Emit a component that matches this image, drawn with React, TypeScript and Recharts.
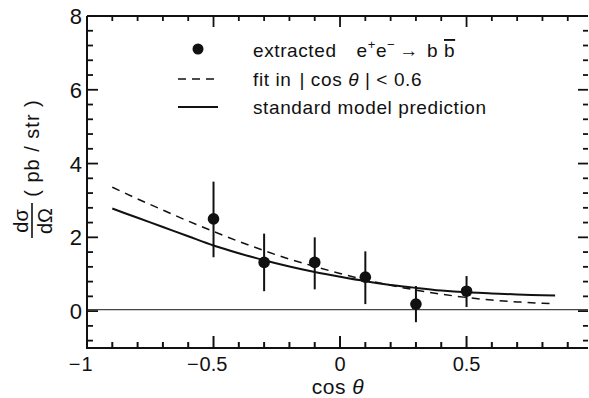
import React from 'react';
import { ComposedChart, Line, Scatter, XAxis, YAxis, ErrorBar, ReferenceLine, Label } from 'recharts';

// measured points (extracted e+e- -> b bbar)
const pointX = [-0.5, -0.3, -0.1, 0.1, 0.3, 0.5];
const pointY = [2.5, 1.32, 1.32, 0.92, 0.19, 0.54];
const pointLow = [1.46, 0.54, 0.59, 0.19, -0.3, 0.11];
const pointHigh = [3.51, 2.1, 2.0, 1.62, 0.68, 0.95];

// curves
const curveX = [-0.9, -0.8, -0.7, -0.6, -0.5, -0.4, -0.3, -0.2, -0.1, 0, 0.1, 0.2, 0.3, 0.4, 0.5, 0.6, 0.7, 0.8, 0.85];
const smValues = [2.78, 2.53, 2.28, 2.03, 1.78, 1.57, 1.38, 1.21, 1.06, 0.93, 0.81, 0.71, 0.63, 0.56, 0.51, 0.48, 0.45, 0.43, 0.42];
const fitValues = [3.36, 3.04, 2.74, 2.44, 2.16, 1.89, 1.64, 1.41, 1.21, 1.02, 0.85, 0.7, 0.57, 0.46, 0.37, 0.3, 0.25, 0.21, 0.2];

const zeroLineY = 0.04;

const xTicks = [-1, -0.9, -0.8, -0.7, -0.6, -0.5, -0.4, -0.3, -0.2, -0.1, 0, 0.1, 0.2, 0.3, 0.4, 0.5, 0.6, 0.7, 0.8, 0.9];
const yTicks = [-0.8, -0.4, 0, 0.4, 0.8, 1.2, 1.6, 2, 2.4, 2.8, 3.2, 3.6, 4, 4.4, 4.8, 5.2, 5.6, 6, 6.4, 6.8, 7.2, 7.6, 8];
const xDomain = [-1, 0.98];
const yDomain = [-1, 8];

const legendLabels = ['extracted', 'fit in', 'standard model prediction'];

const FONT = '"Liberation Sans", Arial, sans-serif';
const INK = '#111';

const curveData = curveX.map((x, i) => ({ x, sm: smValues[i], fit: fitValues[i] }));
const pointData = pointX.map((x, i) => ({
  x,
  y: pointY[i],
  err: [pointY[i] - pointLow[i], pointHigh[i] - pointY[i]],
}));

const isMajorX = (v: number) => Math.abs(v * 2 - Math.round(v * 2)) < 1e-6;
const isMajorY = (v: number) => Math.abs(v / 2 - Math.round(v / 2)) < 1e-6;

const charW: Record<string, number> = { '.': 5.6, '0': 11.1, '1': 11.1, '5': 11.1 };
const strW = (s: string) => s.split('').reduce((a, c) => a + (charW[c] ?? 11.1), 0);

const BottomTick = (props: any) => {
  const { x, y, payload } = props;
  const v = payload.value as number;
  const major = isMajorX(v);
  const absStr = String(Math.abs(Math.round(v * 10) / 10));
  const w = strW(absStr);
  const len = major ? 12 : 6;
  return (
    <g>
      <path d={`M${x},${y + 1}L${x},${y - len}`} stroke={INK} strokeWidth={2} fill="none" />
      {major && (
        <text x={x} y={y + 23} textAnchor="middle" fontFamily={FONT} fontSize={20} fill={INK}>
          {absStr}
        </text>
      )}
      {major && v < 0 && (
        <text x={x - w / 2 - 1} y={y + 23} textAnchor="end" fontFamily={FONT} fontSize={20} fill={INK}>
          {'\u2212'}
        </text>
      )}
    </g>
  );
};

const TopTick = (props: any) => {
  const { x, y, payload } = props;
  const major = isMajorX(payload.value);
  return <path d={`M${x},${y}L${x},${y + (major ? 11 : 5)}`} stroke={INK} strokeWidth={1.8} fill="none" />;
};

const LeftTick = (props: any) => {
  const { x, y, payload } = props;
  const v = payload.value as number;
  const major = isMajorY(v);
  return (
    <g>
      <path d={`M${x},${y}L${x + (major ? 11 : 6)},${y}`} stroke={INK} strokeWidth={1.8} fill="none" />
      {major && (
        <text x={x - 5} y={y + 8} textAnchor="end" fontFamily={FONT} fontSize={22} fill={INK}>
          {String(Math.round(v))}
        </text>
      )}
    </g>
  );
};

const RightTick = (props: any) => {
  const { x, y, payload } = props;
  const major = isMajorY(payload.value);
  return <path d={`M${x},${y}L${x - (major ? 10 : 5)},${y}`} stroke={INK} strokeWidth={1.8} fill="none" />;
};

const LegendBox = () => (
  <g fontFamily={FONT} fill={INK} fontSize={19} letterSpacing={0.6}>
    <circle cx={198} cy={49} r={5.5} fill={INK} />
    <text x={253} y={57}>
      {legendLabels[0]}
      <tspan dx={20}>e</tspan>
      <tspan fontSize={13} dy={-8}>+</tspan>
      <tspan dy={8}>e</tspan>
      <tspan fontSize={13} dy={-8}>{'\u2212'}</tspan>
      <tspan dy={8} dx={4}>{'\u2192'}</tspan>
      <tspan dx={8}>b </tspan>
      <tspan textDecoration="overline">b</tspan>
    </text>
    <line x1={178} x2={218} y1={79} y2={79} stroke={INK} strokeWidth={1.5} strokeDasharray="8 6" />
    <text x={253} y={86}>
      {legendLabels[1]}
      <tspan dx={8}>{'| cos '}</tspan>
      <tspan fontStyle="italic">{'\u03B8'}</tspan>
      <tspan>{' | < 0.6'}</tspan>
    </text>
    <line x1={178} x2={218} y1={107} y2={107} stroke={INK} strokeWidth={1.8} />
    <text x={253} y={114}>{legendLabels[2]}</text>
  </g>
);

const YTitle = () => (
  <g>
    <g fontFamily={FONT} fill={INK}>
      <text x={0} y={0} transform="translate(39,148) rotate(-90)" textAnchor="middle" fontSize={20} letterSpacing={1}>
        ( pb / str )
      </text>
      <text x={0} y={0} transform="translate(28,221) rotate(-90)" textAnchor="middle" fontSize={20}>
        {'d\u03C3'}
      </text>
      <line x1={32} x2={32} y1={203} y2={238} stroke={INK} strokeWidth={1.6} />
      <text x={0} y={0} transform="translate(52,221) rotate(-90)" textAnchor="middle" fontSize={20}>
        {'d\u03A9'}
      </text>
    </g>
    <LegendBox />
  </g>
);

const XTitle = () => (
  <text x={338} y={394} textAnchor="middle" fontFamily={FONT} fontSize={21} fill={INK} letterSpacing={0.5}>
    cos <tspan fontStyle="italic">{'\u03B8'}</tspan>
  </text>
);

const Dot = (p: any) => <circle cx={p.cx} cy={p.cy} r={5.8} fill={INK} />;

export default function App() {
  return (
    <div style={{ position: 'absolute', left: 0, top: 0, width: 589, height: 398, background: '#fff' }}>
      <ComposedChart width={589} height={398} data={curveData} margin={{ top: 15, right: 0, bottom: 0, left: 0 }}>
        <XAxis
          xAxisId="b"
          orientation="bottom"
          type="number"
          dataKey="x"
          domain={xDomain}
          ticks={xTicks}
          allowDataOverflow
          height={50}
          tickSize={0}
          tickMargin={0}
          tickLine={false}
          tick={<BottomTick />}
          axisLine={{ stroke: INK, strokeWidth: 2 }}
          interval={0}
        >
          <Label content={<XTitle />} />
        </XAxis>
        <XAxis
          xAxisId="t"
          orientation="top"
          type="number"
          dataKey="x"
          domain={xDomain}
          ticks={xTicks}
          allowDataOverflow
          height={1}
          tickSize={0}
          tickMargin={0}
          tickLine={false}
          tick={<TopTick />}
          axisLine={{ stroke: INK, strokeWidth: 2 }}
          interval={0}
        />
        <YAxis
          yAxisId="l"
          orientation="left"
          type="number"
          domain={yDomain}
          ticks={yTicks}
          allowDataOverflow
          width={87}
          tickSize={0}
          tickMargin={0}
          tickLine={false}
          tick={<LeftTick />}
          axisLine={{ stroke: INK, strokeWidth: 2 }}
          interval={0}
        >
          <Label content={<YTitle />} />
        </YAxis>
        <YAxis
          yAxisId="r"
          orientation="right"
          type="number"
          domain={yDomain}
          ticks={yTicks}
          allowDataOverflow
          width={1}
          tickSize={0}
          tickMargin={0}
          tickLine={false}
          tick={<RightTick />}
          axisLine={false}
          interval={0}
        />
        <ReferenceLine xAxisId="b" yAxisId="l" y={zeroLineY} stroke="#444" strokeWidth={1.4} />
        <Line
          xAxisId="b"
          yAxisId="l"
          type="monotone"
          dataKey="fit"
          stroke={INK}
          strokeWidth={1.5}
          strokeDasharray="8 6"
          dot={false}
          activeDot={false}
          isAnimationActive={false}
        />
        <Line
          xAxisId="b"
          yAxisId="l"
          type="monotone"
          dataKey="sm"
          stroke={INK}
          strokeWidth={2}
          dot={false}
          activeDot={false}
          isAnimationActive={false}
        />
        <Scatter xAxisId="b" yAxisId="l" data={pointData} dataKey="y" shape={<Dot />} isAnimationActive={false}>
          <ErrorBar dataKey="err" direction="y" width={0} stroke={INK} strokeWidth={2} isAnimationActive={false} />
        </Scatter>
      </ComposedChart>
    </div>
  );
}
